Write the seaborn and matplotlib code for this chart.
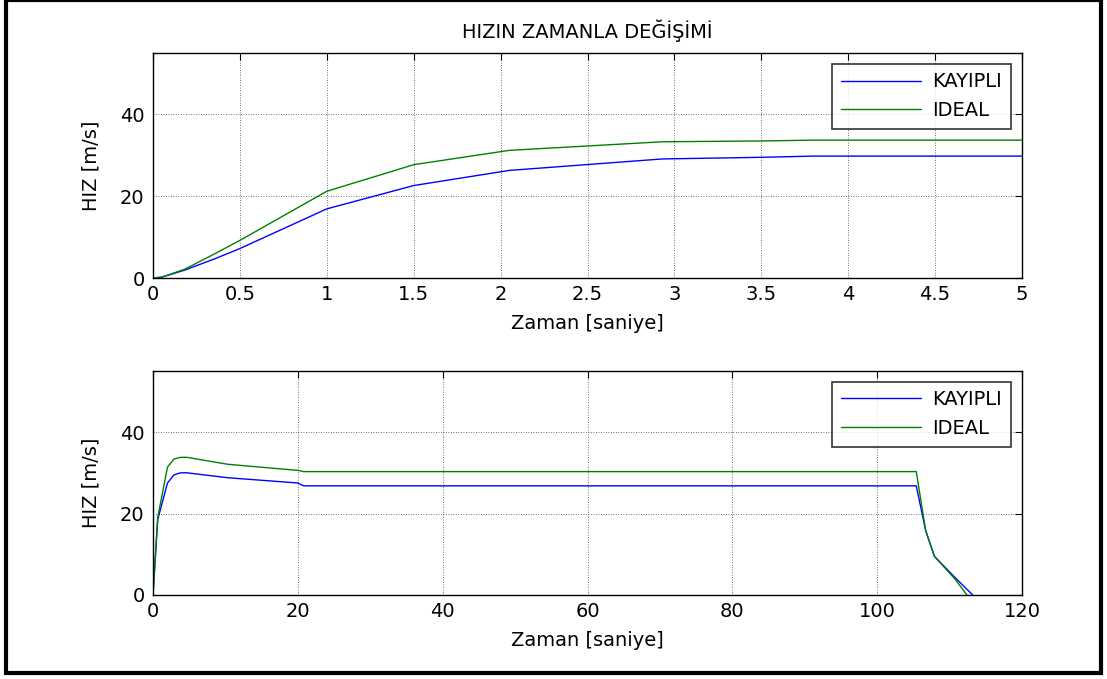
import matplotlib
matplotlib.use("Agg")
import matplotlib.pyplot as plt
import seaborn as sns
import pandas as pd
from matplotlib.patches import Rectangle

# ---- data ----
t_top = [0, 0.05, 0.18, 0.35, 0.5, 1.0, 1.5, 2.05, 2.93, 3.5, 3.8, 5.0]
kayipli_top = [0, 0.2, 1.9, 4.6, 7.2, 16.9, 22.6, 26.3, 29.1, 29.5, 29.8, 29.8]
ideal_top = [0, 0.2, 2.1, 5.8, 9.2, 21.2, 27.7, 31.2, 33.3, 33.5, 33.7, 33.7]

t_bot = [0, 0.65, 2.0, 2.9, 3.8, 4.7, 10.3, 20.0, 20.8, 105.4, 106.7, 107.9, 110.8, 112.4, 113.2]
kayipli_bot = [0, 18.5, 27.5, 29.5, 30.0, 30.0, 28.8, 27.5, 26.8, 26.8, 15.8, 9.5, 4.2, 1.4, 0]
ideal_bot = [0, 19.0, 31.4, 33.4, 33.8, 33.8, 32.1, 30.6, 30.3, 30.3, 15.8, 9.5, 3.8, 0, -0.5]

series_names = ["KAYIPLI", "IDEAL"]
series_colors = ["#0000ff", "#008000"]
top_xticks = [0, 0.5, 1, 1.5, 2, 2.5, 3, 3.5, 4, 4.5, 5]
top_xlabels = ["0", "0.5", "1", "1.5", "2", "2.5", "3", "3.5", "4", "4.5", "5"]
bot_xticks = [0, 20, 40, 60, 80, 100, 120]
yticks = [0, 20, 40]
title = "HIZIN ZAMANLA DEĞİŞİMİ"
xlabel = "Zaman [saniye]"
ylabel = "HIZ [m/s]"

sns.set_style("white")
plt.rcParams['font.family'] = ['DejaVu Sans']
plt.rcParams['font.size'] = 14
plt.rcParams['text.color'] = 'black'
plt.rcParams['axes.labelcolor'] = 'black'

fig = plt.figure(figsize=(11.07, 6.79), dpi=100)
ax1 = fig.add_axes([153/1107, 1-278/679, 869/1107, 225/679])
ax2 = fig.add_axes([153/1107, 1-595/679, 869/1107, 224/679])

def make_df(t, a, b):
    n = len(t)
    return pd.DataFrame({"t": list(t) * 2, "v": list(a) + list(b),
                         "s": [series_names[0]] * n + [series_names[1]] * n})

pal = dict(zip(series_names, series_colors))
for ax, df, xlim, xt in [(ax1, make_df(t_top, kayipli_top, ideal_top), (0, 5), top_xticks),
                         (ax2, make_df(t_bot, kayipli_bot, ideal_bot), (0, 120), bot_xticks)]:
    sns.lineplot(data=df, x="t", y="v", hue="s", palette=pal, ax=ax, lw=1.0,
                 estimator=None, sort=False)
    ax.set_xlim(*xlim)
    ax.set_ylim(0, 55)
    ax.set_xticks(xt)
    ax.set_yticks(yticks)
    ax.grid(True, color="#444444", linestyle=(0, (1, 2)), linewidth=0.6)
    ax.tick_params(direction="in", top=True, right=True, length=5, labelsize=14,
                   color="black", labelcolor="black")
    ax.tick_params(axis="x", pad=5)
    ax.tick_params(axis="y", pad=6)
    for sp in ax.spines.values():
        sp.set_color("black")
        sp.set_linewidth(1.0)
    ax.set_xlabel(xlabel, fontsize=14, labelpad=7, color="black")
    ax.set_ylabel(ylabel, fontsize=14, labelpad=14, color="black")
    leg = ax.legend(loc="upper right", bbox_to_anchor=(0.987, 0.953), frameon=True,
                    fancybox=False, edgecolor="black", fontsize=14, handlelength=4.1,
                    borderpad=0.45, labelspacing=0.5, handletextpad=0.6,
                    borderaxespad=0)
    leg.get_frame().set_linewidth(1.2)
    for txt in leg.get_texts():
        txt.set_color("black")

ax1.set_xticklabels(top_xlabels)
ax1.set_title(title, fontsize=14, pad=11, color="black")

fig.patches.append(Rectangle((6/1107, 1-673/679), 1095/1107, 673/679, transform=fig.transFigure,
                             fill=False, edgecolor="black", linewidth=3))
fig.savefig("out.png", dpi=100)
